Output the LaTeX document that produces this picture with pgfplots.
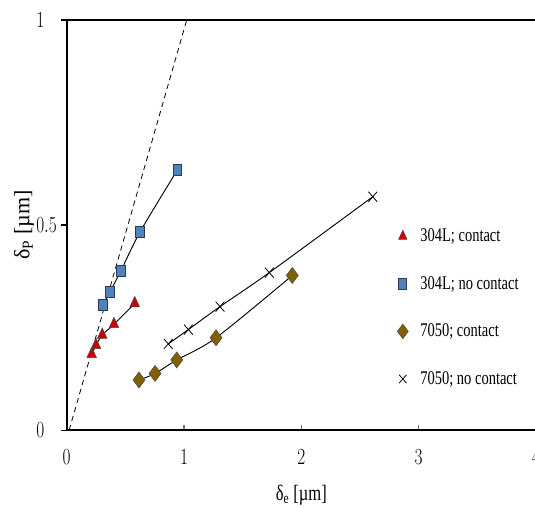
\documentclass[border=0pt]{standalone}
\usepackage{pgfplots}
\pgfplotsset{compat=1.18}
\usepackage{fontspec}
\setmainfont{Liberation Serif}
\usepackage{graphicx}
\definecolor{redtri}{RGB}{204,0,0}
\definecolor{bluesq}{RGB}{79,129,189}
\definecolor{bluesqedge}{RGB}{40,60,90}
\definecolor{olivedia}{RGB}{128,96,0}
\newcommand{\sq}[1]{\scalebox{0.75}[1]{#1}}
\newcommand{\tfont}{\fontsize{17}{19}\selectfont}
\newcommand{\lfont}{\fontsize{14.5}{16}\selectfont}
\newcommand{\afont}{\fontsize{16.5}{18}\selectfont}

\pgfplotstableread{
x y
0.213 0.185
0.250 0.207
0.303 0.232
0.403 0.258
0.580 0.309
}\ssContact
\pgfplotstableread{
x y
0.307 0.306
0.369 0.337
0.463 0.389
0.627 0.484
0.943 0.634
}\ssNoContact
\pgfplotstableread{
x y
0.616 0.122
0.753 0.138
0.938 0.171
1.273 0.225
1.923 0.377
}\alContact
\pgfplotstableread{
x y
0.866 0.210
1.037 0.245
1.307 0.301
1.727 0.384
2.609 0.569
}\alNoContact

\begin{document}
\begin{tikzpicture}
\begin{axis}[
  x=87.975pt, y=307.5pt,
  xmin=0, xmax=4.3, ymin=0, ymax=1,
  axis line style={line width=1.2pt},
  xtick={0,1,2,3,4}, ytick={0,0.5,1},
  xtick pos=bottom, ytick pos=left,
  xtick align=inside, ytick align=outside,
  major tick length=4pt,
  x tick style={black!55, line width=0.9pt},
  y tick style={black, line width=0.8pt},
  xticklabel={\sq{\pgfmathprintnumber{\tick}}},
  yticklabel={\sq{\pgfmathprintnumber{\tick}}},
  tick label style={font=\tfont, text=black},
  xticklabel style={yshift=-11pt},
  yticklabel style={anchor=west, inner xsep=0pt, xshift=-19pt},
  legend style={draw=none, fill=none, font=\lfont, inner sep=0pt,
    at={(axis cs:2.816,0.4976)}, anchor=north west, row sep=20.5pt,
    column sep=7pt},
  legend cell align=left,
  clip=false,
]
% dashed reference line
\addplot[black, line width=0.6pt, dash pattern=on 4pt off 3pt, forget plot]
  coordinates {(0.021,0) (1.023,1)};

% markers
\addplot[only marks, mark=triangle*, mark size=5.2pt,
  mark options={fill=redtri, draw=black!70, line width=0.4pt, xscale=0.8}, forget plot]
  table {\ssContact};
\addplot[only marks, mark=square*, mark size=4.2pt,
  mark options={fill=bluesq, draw=bluesqedge, line width=0.6pt, xscale=0.78}, forget plot]
  table {\ssNoContact};
\addplot[only marks, mark=diamond*, mark size=6pt,
  mark options={fill=olivedia, draw=black!70, line width=0.4pt}, forget plot]
  table {\alContact};
\addplot[only marks, mark=x, mark size=5.3pt,
  mark options={draw=black, line width=0.6pt, xscale=0.88}, forget plot]
  table {\alNoContact};

% connecting lines
\addplot[black, line width=0.7pt, smooth, tension=0.5, no marks, forget plot] table {\ssContact};
\addplot[black, line width=0.7pt, smooth, tension=0.5, no marks, forget plot] table {\ssNoContact};
\addplot[black, line width=0.7pt, smooth, tension=0.5, no marks, forget plot] table {\alContact};
\addplot[black, line width=0.7pt, smooth, tension=0.5, no marks, forget plot] table {\alNoContact};

\addlegendimage{only marks, mark=triangle*, mark size=4.6pt,
  mark options={fill=redtri, draw=black!70, line width=0.4pt, xscale=0.8}}
\addlegendentry{\sq{304L; contact}}
\addlegendimage{only marks, mark=square*, mark size=3.8pt,
  mark options={fill=bluesq, draw=bluesqedge, line width=0.6pt, xscale=0.78}}
\addlegendentry{\sq{304L; no contact}}
\addlegendimage{only marks, mark=diamond*, mark size=5.5pt,
  mark options={fill=olivedia, draw=black!70, line width=0.4pt}}
\addlegendentry{\sq{7050; contact}}
\addlegendimage{only marks, mark=x, mark size=4.4pt,
  mark options={draw=black, line width=0.6pt, xscale=0.88}}
\addlegendentry{\sq{7050; no contact}}

% axis titles
\node[font=\afont, anchor=center] at (axis cs:2,-0.1585)
  {\sq{δ\textsubscript{e} [µm]}};
\node[font=\afont, anchor=center, rotate=90] at (axis cs:-0.364,0.5)
  {δ\textsubscript{P} [µm]};

\coordinate (bl) at (axis cs:-0.5686,-0.190);
\coordinate (tr) at (axis cs:3.992,1.0488);
\end{axis}
\pgfresetboundingbox
\path[use as bounding box] (bl) rectangle (tr);
\end{tikzpicture}
\end{document}
